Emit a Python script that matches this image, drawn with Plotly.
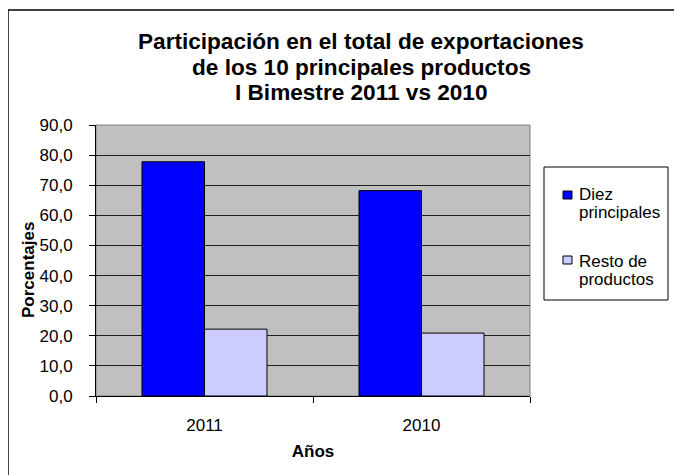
import plotly.graph_objects as go

years = ["2011", "2010"]
diez = [77.8, 68.2]
resto = [22.2, 20.9]
series_names = ["Diez principales", "Resto de productos"]
series_colors = ["#0000FF", "#CCCCFF"]
y_ticks = [0, 10, 20, 30, 40, 50, 60, 70, 80, 90]
title_lines = ["Participación en el total de exportaciones",
               "de los 10 principales productos",
               "I Bimestre 2011 vs 2010"]
legend_lines = [["Diez", "principales"], ["Resto de", "productos"]]

W, H = 682, 475
OFF = 8  # page body margin offset
L, R, T, B = 96 - OFF, 530 - OFF, 125 - OFF, 396 - OFF
pw, ph = R - L, B - T

def px(x):  # reference pixel x -> paper
    return (x - OFF - L) / pw

def py(y):  # reference pixel y -> paper
    return (B - (y - OFF)) / ph

fig = go.Figure()
for name, vals, col in zip(series_names, [diez, resto], series_colors):
    fig.add_trace(go.Bar(x=years, y=vals, name=name,
                         marker=dict(color=col, line=dict(color="#000000", width=1))))

font = "Liberation Sans, Arial, sans-serif"
fig.update_layout(
    width=W, height=H,
    margin=dict(l=L, r=W - R, t=T, b=H - B, pad=0),
    paper_bgcolor="white", plot_bgcolor="#C0C0C0",
    separators=",.",
    barmode="group", bargap=0.424, bargroupgap=0,
    font=dict(family=font, size=17, color="black"),
    showlegend=False,
    xaxis=dict(type="category", showline=True, linecolor="black", linewidth=1,
               ticks="outside", ticklen=6, tickcolor="black", tickson="boundaries",
               tickfont=dict(size=17), showgrid=False, ticklabelstandoff=14,
               title=dict(text="<b>Años</b>", font=dict(size=17), standoff=10)),
    yaxis=dict(range=[0, 90], tickvals=y_ticks, tickformat=".1f",
               showline=True, linecolor="black", linewidth=1,
               ticks="outside", ticklen=6, tickcolor="black",
               showgrid=True, gridcolor="#202020", gridwidth=1,
               tickfont=dict(size=17), zeroline=False, ticklabelstandoff=13),
)

# title lines
for line, yc in zip(title_lines, [42, 67, 92]):
    fig.add_annotation(text="<b>" + line + "</b>", xref="paper", yref="paper",
                       x=px(361), y=py(yc), showarrow=False,
                       xanchor="center", yanchor="middle",
                       font=dict(size=22.6, family=font, color="black"))

# y axis title
fig.add_annotation(text="<b>Porcentajes</b>", xref="paper", yref="paper",
                   x=px(28), y=py(270), textangle=-90, showarrow=False,
                   font=dict(size=17, family=font), xanchor="center", yanchor="middle")

# plot frame (gray top/right)
fig.add_shape(type="rect", xref="paper", yref="paper", x0=0, x1=1, y0=0, y1=1,
              line=dict(color="#808080", width=1), layer="below")

# legend box and entries
fig.add_shape(type="rect", xref="paper", yref="paper", x0=px(544), x1=px(668),
              y0=py(300), y1=py(167), line=dict(color="black", width=1))
for col, lines, (sq_top, t1, t2) in zip(series_colors, legend_lines,
                                        [(191, 194, 212), (256, 261, 279)]):
    fig.add_shape(type="rect", xref="paper", yref="paper",
                  x0=px(563), x1=px(572), y0=py(sq_top + 8), y1=py(sq_top),
                  fillcolor=col, line=dict(color="#000000", width=1))
    for txt, yc in zip(lines, [t1, t2]):
        fig.add_annotation(text=txt, xref="paper", yref="paper",
                           x=px(577), y=py(yc), showarrow=False,
                           xanchor="left", yanchor="middle",
                           font=dict(size=17, family=font, color="black"))

# outer chart border (top and left visible)
fig.add_shape(type="line", xref="paper", yref="paper", x0=px(8), x1=px(700),
              y0=py(10), y1=py(10), line=dict(color="black", width=1.5))
fig.add_shape(type="line", xref="paper", yref="paper", x0=px(8), x1=px(8),
              y0=py(10), y1=py(490), line=dict(color="black", width=1.5))

fig.write_html("out.html")
